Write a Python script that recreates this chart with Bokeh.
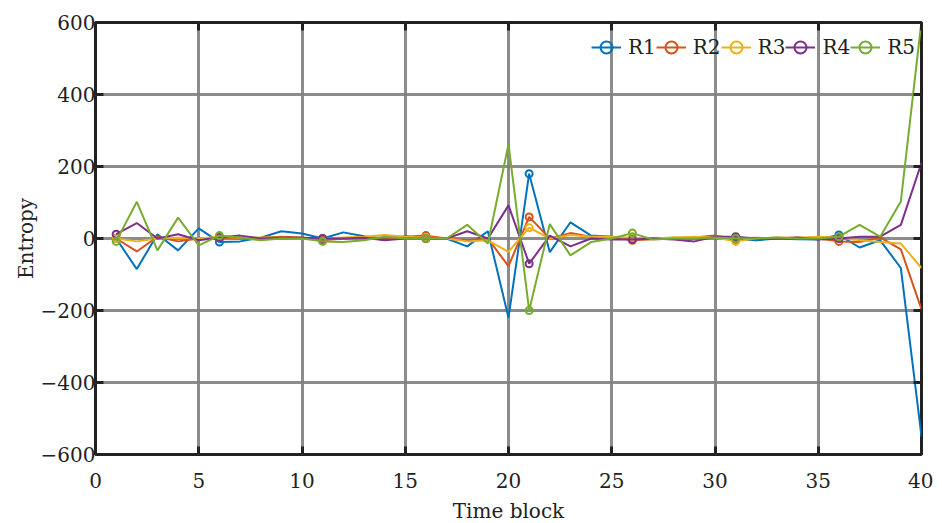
from bokeh.plotting import figure
from bokeh.models import LinearAxis, Range1d, FixedTicker, CustomJSTickFormatter, Legend, LegendItem, ColumnDataSource
from bokeh.embed import file_html
from bokeh.resources import INLINE

x = list(range(1, 41))
R1 = [0, -85, 12, -33, 28, -10, -8, 2, 20, 14, 0, 17, 6, 0, 6, 0, 0, -22, 20, -220,
      180, -38, 45, 8, 5, 0, 0, 2, 0, 3, -2, -5, 0, -2, -3, 10, -25, -5, -82, -550]
R2 = [0, -36, 5, -8, 0, 3, 0, 2, 5, 3, -5, 0, 2, -3, 5, 8, 0, -5, 0, -77,
      60, 0, 15, 5, 5, -5, -2, 0, 3, 8, 0, 2, 0, 2, 0, -8, -10, 3, -30, -197]
R3 = [0, -8, 0, 2, 0, 5, 2, 3, 2, 0, 0, 3, 5, 10, 5, 3, 0, -8, -5, -37,
      30, 0, 10, 5, 5, 2, 0, 3, 5, 3, -8, 0, 3, 2, 5, 3, -5, -10, -14, -82]
R4 = [12, 43, 0, 12, -5, 3, 8, 0, 2, 2, 0, 0, 2, -5, 0, 0, 0, 20, 0, 92,
      -70, 8, -22, 0, -3, -3, 0, -3, -8, 5, 5, 0, 0, 3, -3, 0, 5, 5, 38, 210]
R5 = [-8, 102, -33, 58, -19, 8, 3, -5, 0, 0, -8, -10, -5, 5, 0, 0, 0, 38, -14, 262,
      -200, 40, -47, -10, 0, 15, -3, 0, 0, 3, 0, 0, 3, 0, 0, 5, 38, 5, 103, 605]
names = ["R1", "R2", "R3", "R4", "R5"]
series = [R1, R2, R3, R4, R5]
colors = ["#0072BD", "#D95319", "#EDB120", "#7E2F8E", "#77AC30"]
marker_idx = list(range(0, 40, 5))
x_ticks = [0, 5, 10, 15, 20, 25, 30, 35, 40]
y_ticks = [-600, -400, -200, 0, 200, 400, 600]

FONT = "DejaVu Serif"
FS = "20px"

p = figure(frame_width=826, frame_height=432, output_backend="svg", toolbar_location=None,
           x_range=Range1d(0, 40), y_range=Range1d(-600, 600),
           min_border_left=95, min_border_top=22, min_border_right=12, min_border_bottom=50)
p.outline_line_color = "#222222"
p.outline_line_width = 3

fmt = CustomJSTickFormatter(code="return tick < 0 ? '\u2212' + Math.abs(tick) : String(tick);")
blank = CustomJSTickFormatter(code="return '';")

for ax in p.xaxis + p.yaxis:
    ax.axis_line_color = None
    ax.major_tick_in = 8
    ax.major_tick_out = 0
    ax.major_tick_line_width = 3
    ax.major_tick_line_color = "#222222"
    ax.minor_tick_line_color = None
    ax.major_label_text_font = FONT
    ax.major_label_text_font_size = FS
    ax.major_label_text_color = "#222222"
    ax.axis_label_text_font = FONT
    ax.axis_label_text_font_size = FS
    ax.axis_label_text_font_style = "normal"
    ax.axis_label_text_color = "#222222"
p.xaxis.ticker = FixedTicker(ticks=x_ticks)
p.yaxis.ticker = FixedTicker(ticks=y_ticks)
p.yaxis.formatter = fmt
p.xaxis.axis_label = "Time block"
p.yaxis.axis_label = "Entropy"
p.xaxis.major_label_standoff = 18
p.yaxis.major_label_standoff = 0
p.xaxis.axis_label_standoff = 8
p.yaxis.axis_label_standoff = 0

for loc, tk in (("right", y_ticks), ("above", x_ticks)):
    ax = LinearAxis(ticker=FixedTicker(ticks=tk), formatter=blank)
    ax.axis_line_color = None
    ax.major_tick_in = 8
    ax.major_tick_out = 0
    ax.major_tick_line_width = 3
    ax.major_tick_line_color = "#222222"
    ax.minor_tick_line_color = None
    ax.major_label_standoff = 0
    p.add_layout(ax, loc)

p.xgrid.ticker = FixedTicker(ticks=x_ticks)
p.ygrid.ticker = FixedTicker(ticks=y_ticks)
for g in (p.xgrid, p.ygrid):
    g.grid_line_color = "#7f7f7f"
    g.grid_line_width = 3
    g.grid_line_alpha = 0.9

items = []
for name, ys, c in zip(names, series, colors):
    src = ColumnDataSource(dict(x=x, y=ys))
    r1 = p.line("x", "y", source=src, line_color=c, line_width=2)
    msrc = ColumnDataSource(dict(x=[x[i] for i in marker_idx], y=[ys[i] for i in marker_idx]))
    r2 = p.scatter("x", "y", source=msrc, marker="circle", size=7, line_color=c,
                   line_width=2, fill_color=None)
    items.append(LegendItem(label=name, renderers=[r1, r2]))

legend = Legend(items=items, orientation="horizontal", location="top_right")
legend.label_text_font = FONT
legend.label_text_font_size = FS
legend.label_text_color = "#222222"
legend.background_fill_alpha = 0
legend.border_line_alpha = 0
legend.glyph_width = 30
legend.glyph_height = 38
legend.label_height = 38
legend.label_standoff = 7
legend.spacing = 0
legend.padding = 4
legend.margin = 2
p.add_layout(legend)

open("out.html", "w").write(file_html(p, INLINE))
